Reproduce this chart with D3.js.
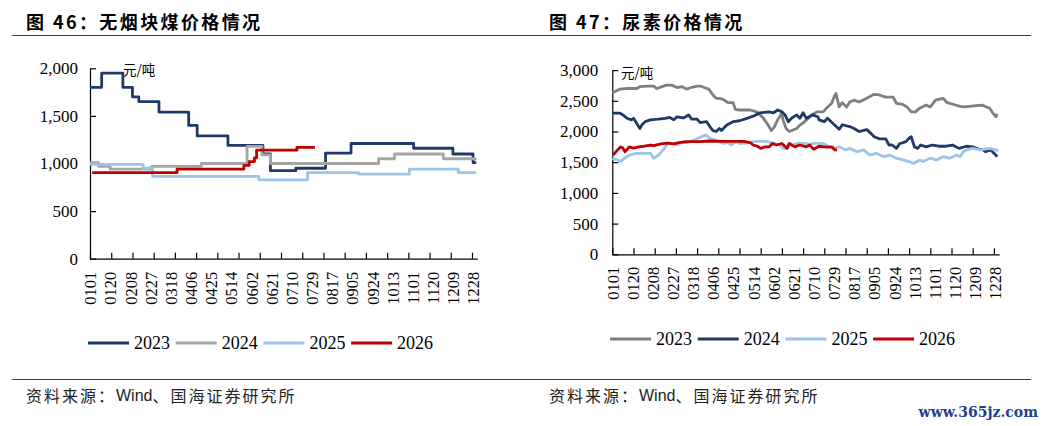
<!DOCTYPE html>
<html>
<head>
<meta charset="utf-8">
<script src="https://cdn.jsdelivr.net/npm/d3@7"></script>
<style>
  body { margin: 0; background: #fff; }
  svg { display: block; }
</style>
</head>
<body>
<svg id="chart" width="1048" height="426"></svg>
<script>
// x categories: every day of the year as MMDD, labels every 19 days
const tickLabels = ["0101", "0120", "0208", "0227", "0318", "0406", "0425", "0514", "0602", "0621",
  "0710", "0729", "0817", "0905", "0924", "1013", "1101", "1120", "1209", "1228"];
const years = ["2023", "2024", "2025", "2026"];

// 无烟块煤 (step changes: date, price)
const coal2023 = [["0101", 1800], ["0112", 1950], ["0201", 1800], ["0210", 1700], ["0216", 1650],
  ["0307", 1540], ["0404", 1400], ["0412", 1290], ["0511", 1190], ["0613", 1100], ["0620", 925],
  ["0714", 950], ["0811", 1110], ["0904", 1210], ["1102", 1160], ["1209", 1100], ["1228", 1010],
  ["1231", 1010]];
const coal2024 = [["0101", 1010], ["0109", 970], ["0120", 940], ["0228", 970], ["0416", 1000],
  ["0529", 1180], ["0612", 1090], ["0620", 1000], ["0930", 1050], ["1015", 1100], ["1130", 1050],
  ["1231", 1050]];
const coal2025 = [["0101", 990], ["0220", 950], ["0301", 865], ["0609", 828], ["0725", 905],
  ["0911", 888], ["1029", 940], ["1214", 905], ["1231", 905]];
const coal2026 = [["0103", 905], ["0324", 940], ["0526", 980], ["0531", 1020], ["0605", 1060],
  ["0607", 1140], ["0715", 1170], ["0801", 1170]];

// 尿素
const urea2023 = [["0101", 2630], ["0108", 2690], ["0115", 2700], ["0124", 2700], ["0127", 2730],
  ["0203", 2740], ["0209", 2740], ["0212", 2700], ["0217", 2730], ["0221", 2755], ["0226", 2755],
  ["0303", 2715], ["0308", 2730], ["0312", 2690], ["0317", 2720], ["0322", 2740], ["0325", 2740],
  ["0328", 2720], ["0402", 2690], ["0406", 2595], ["0409", 2540], ["0412", 2540], ["0416", 2520],
  ["0420", 2470], ["0425", 2470], ["0427", 2360], ["0501", 2350], ["0511", 2350], ["0517", 2320],
  ["0523", 2230], ["0528", 2105], ["0531", 2015], ["0603", 2080], ["0606", 2190], ["0610", 2295],
  ["0611", 2190], ["0614", 2050], ["0617", 2000], ["0624", 2050], ["0627", 2105], ["0630", 2140],
  ["0705", 2215], ["0708", 2270], ["0713", 2320], ["0719", 2320], ["0722", 2380], ["0727", 2460],
  ["0730", 2595], ["0731", 2620], ["0803", 2400], ["0806", 2470], ["0810", 2400], ["0813", 2480],
  ["0817", 2510], ["0822", 2480], ["0829", 2540], ["0905", 2605], ["0910", 2595], ["0916", 2560],
  ["0923", 2560], ["0926", 2460], ["1002", 2440], ["1006", 2400], ["1010", 2320], ["1014", 2320],
  ["1018", 2380], ["1024", 2430], ["1028", 2400], ["1102", 2510], ["1109", 2540], ["1113", 2470],
  ["1119", 2440], ["1125", 2410], ["1129", 2400], ["1204", 2410], ["1210", 2420], ["1216", 2430],
  ["1220", 2400], ["1223", 2380], ["1226", 2300], ["1229", 2240], ["1230", 2290]];
const urea2024 = [["0101", 2300], ["0108", 2300], ["0111", 2270], ["0115", 2215], ["0119", 2190],
  ["0121", 2215], ["0124", 2135], ["0127", 2050], ["0129", 2110], ["0201", 2160], ["0206", 2190],
  ["0213", 2200], ["0220", 2215], ["0224", 2230], ["0228", 2190], ["0303", 2240], ["0309", 2220],
  ["0314", 2270], ["0317", 2200], ["0322", 2200], ["0325", 2145], ["0331", 2160], ["0403", 2080],
  ["0406", 2015], ["0409", 2000], ["0412", 2050], ["0414", 2015], ["0419", 2105], ["0425", 2160],
  ["0501", 2175], ["0508", 2215], ["0514", 2250], ["0520", 2305], ["0529", 2320], ["0602", 2305],
  ["0606", 2350], ["0610", 2320], ["0613", 2270], ["0616", 2160], ["0619", 2215], ["0624", 2270],
  ["0627", 2215], ["0630", 2305], ["0703", 2215], ["0709", 2270], ["0714", 2240], ["0715", 2190],
  ["0720", 2160], ["0723", 2215], ["0728", 2135], ["0803", 2035], ["0806", 2110], ["0813", 2080],
  ["0817", 2050], ["0822", 2000], ["0829", 2030], ["0902", 1970], ["0905", 1915], ["0910", 1880],
  ["0916", 1880], ["0919", 1780], ["0922", 1780], ["0926", 1725], ["0929", 1800], ["1005", 1835],
  ["1008", 1890], ["1010", 1915], ["1013", 1750], ["1016", 1725], ["1019", 1780], ["1024", 1750],
  ["1030", 1780], ["1105", 1760], ["1112", 1760], ["1118", 1780], ["1124", 1725], ["1201", 1760],
  ["1207", 1750], ["1213", 1710], ["1216", 1710], ["1219", 1670], ["1224", 1700], ["1229", 1615],
  ["1230", 1590]];
const urea2025 = [["0101", 1560], ["0106", 1540], ["0109", 1510], ["0112", 1560], ["0117", 1615],
  ["0124", 1645], ["0201", 1645], ["0206", 1645], ["0209", 1565], ["0214", 1620], ["0219", 1725],
  ["0222", 1805], ["0228", 1800], ["0304", 1780], ["0307", 1820], ["0312", 1820], ["0315", 1835],
  ["0319", 1860], ["0326", 1915], ["0330", 1945], ["0403", 1890], ["0408", 1860], ["0411", 1840],
  ["0416", 1805], ["0420", 1820], ["0423", 1780], ["0428", 1835], ["0501", 1805], ["0508", 1810],
  ["0514", 1835], ["0520", 1840], ["0526", 1840], ["0603", 1805], ["0608", 1780], ["0611", 1725],
  ["0614", 1725], ["0617", 1805], ["0620", 1780], ["0624", 1805], ["0703", 1805], ["0706", 1790],
  ["0710", 1805], ["0719", 1805], ["0725", 1750], ["0730", 1725], ["0803", 1750], ["0809", 1700],
  ["0813", 1725], ["0820", 1670], ["0826", 1700], ["0901", 1615], ["0907", 1645], ["0914", 1590],
  ["0920", 1615], ["0926", 1565], ["1003", 1535], ["1008", 1510], ["1012", 1480], ["1018", 1535],
  ["1021", 1510], ["1028", 1565], ["1103", 1535], ["1109", 1590], ["1115", 1565], ["1122", 1615],
  ["1125", 1590], ["1128", 1670], ["1201", 1700], ["1207", 1725], ["1214", 1700], ["1223", 1725],
  ["1229", 1700], ["1231", 1690]];
const urea2026 = [["0102", 1620], ["0106", 1700], ["0109", 1750], ["0111", 1730], ["0113", 1670],
  ["0117", 1750], ["0121", 1730], ["0126", 1750], ["0131", 1760], ["0206", 1780], ["0209", 1770],
  ["0216", 1800], ["0222", 1810], ["0228", 1800], ["0305", 1820], ["0311", 1835], ["0324", 1835],
  ["0403", 1845], ["0416", 1840], ["0505", 1840], ["0511", 1820], ["0514", 1780], ["0518", 1760],
  ["0521", 1725], ["0525", 1750], ["0529", 1750], ["0601", 1805], ["0605", 1780], ["0610", 1805],
  ["0615", 1725], ["0617", 1805], ["0622", 1750], ["0627", 1780], ["0703", 1750], ["0706", 1780],
  ["0710", 1710], ["0715", 1760], ["0722", 1745], ["0727", 1750], ["0730", 1700], ["0801", 1700]];

const days = d3.timeDay.range(new Date(2023, 0, 1), new Date(2024, 0, 1)).map(d3.timeFormat("%m%d"));
const NUM_FONT = '"Liberation Serif", "Times New Roman", serif';
const CJK_FONT = '"Noto Sans CJK SC", "Noto Sans", sans-serif';

const svg = d3.select("#chart");

class PriceChart {
  constructor(cfg) {
    this.cfg = cfg;
    this.x = d3.scaleLinear().domain([0, 365]).range([cfg.x0, cfg.x1]);
    this.y = d3.scaleLinear().domain([0, cfg.yMax]).range([cfg.y0, cfg.y1]);
    this.g = svg.append("g");
    this.draw();
  }

  draw() {
    let that = this;
    let cfg = this.cfg;
    let g = this.g;

    // title
    g.append("text")
      .attr("x", cfg.titleX)
      .attr("y", 21)
      .attr("dominant-baseline", "central")
      .style("font-family", CJK_FONT)
      .style("font-weight", 700)
      .style("font-size", "18px")
      .style("letter-spacing", "2.4px")
      .text(cfg.title);

    // y axis, ticks inside
    let yAxis = g.append("g")
      .attr("transform", `translate(${cfg.x0},0)`)
      .call(d3.axisLeft(this.y)
        .tickValues(d3.range(0, cfg.yMax + 1, cfg.yStep))
        .tickSize(-6)
        .tickSizeOuter(0)
        .tickPadding(cfg.yPad)
        .tickFormat(d3.format(",")));
    yAxis.attr("font-family", null);
    yAxis.selectAll("text")
      .style("font-family", NUM_FONT)
      .style("font-size", "17px")
      .attr("fill", "#000");

    // x axis tick marks every 20 days
    let xAxis = g.append("g")
      .attr("transform", `translate(0,${cfg.y0})`)
      .call(d3.axisBottom(this.x)
        .tickValues(d3.range(0, 361, 20))
        .tickSize(-6)
        .tickSizeOuter(0)
        .tickFormat(""));

    // x labels every 19 days, rotated
    let xLab = g.append("g")
      .attr("transform", `translate(0,${cfg.y0})`)
      .call(d3.axisBottom(this.x)
        .tickValues(tickLabels.map(t => days.indexOf(t)))
        .tickSize(0)
        .tickFormat(i => days[i]));
    xLab.attr("font-family", null);
    xLab.select(".domain").remove();
    xLab.selectAll("text")
      .attr("transform", "rotate(-90)")
      .attr("text-anchor", "end")
      .attr("x", -cfg.xPad)
      .attr("y", 0)
      .attr("dy", "0.35em")
      .style("font-family", NUM_FONT)
      .style("font-size", "16.5px")
      .attr("fill", "#000");

    [yAxis, xAxis].forEach(a => a.selectAll("path,line").attr("stroke", "#000").attr("stroke-width", 1.2));

    // unit
    g.append("text")
      .attr("x", cfg.unitX)
      .attr("y", cfg.unitY)
      .attr("dominant-baseline", "central")
      .style("font-family", CJK_FONT)
      .style("font-size", "13.5px")
      .text("元/吨");

    let line = d3.line()
      .x(d => that.x(days.indexOf(d[0])))
      .y(d => that.y(d[1]))
      .curve(cfg.curve);

    cfg.series.forEach(function(s) {
      g.append("path")
        .datum(s.data)
        .attr("fill", "none")
        .attr("stroke", s.color)
        .attr("stroke-width", 2.8)
        .attr("stroke-linejoin", "round")
        .attr("d", line);
    });

    // legend
    cfg.series.forEach(function(s, i) {
      let lx = cfg.legX + i * 87.7;
      g.append("line")
        .attr("x1", lx).attr("x2", lx + 41)
        .attr("y1", cfg.legY).attr("y2", cfg.legY)
        .attr("stroke", s.color)
        .attr("stroke-width", 3);
      g.append("text")
        .attr("x", lx + 46)
        .attr("y", cfg.legY)
        .attr("dominant-baseline", "central")
        .style("font-family", NUM_FONT)
        .style("font-size", "18px")
        .text(s.name);
    });

    // source, latin part without the wide spacing
    let src = g.append("text")
      .attr("x", cfg.titleX)
      .attr("y", 395)
      .attr("dominant-baseline", "central")
      .style("font-family", CJK_FONT)
      .style("font-size", "16px")
      .attr("fill", "#222");
    src.append("tspan").style("letter-spacing", "2px").text("资料来源：");
    src.append("tspan").style("font-family", '"Liberation Sans", Arial, sans-serif').text("Wind");
    src.append("tspan").style("letter-spacing", "2px").text("、国海证券研究所");
  }
}

const NAVY = "#1f3a68", LBLUE = "#9dc3e6", RED = "#c00000";

new PriceChart({
  title: "图 46：无烟块煤价格情况",
  titleX: 26,
  x0: 90, x1: 477.3, y0: 258.7, y1: 68.3,
  yMax: 2000, yStep: 500, yPad: 12, xPad: 13,
  unitX: 123, unitY: 69,
  legX: 88, legY: 343,
  curve: d3.curveStepAfter,
  series: [
    { name: years[0], data: coal2023, color: NAVY },
    { name: years[1], data: coal2024, color: "#a6a6a6" },
    { name: years[2], data: coal2025, color: LBLUE },
    { name: years[3], data: coal2026, color: RED }
  ]
});

new PriceChart({
  title: "图 47：尿素价格情况",
  titleX: 549,
  x0: 612.3, x1: 999.2, y0: 254.3, y1: 70.1,
  yMax: 3000, yStep: 500, yPad: 14, xPad: 12.5,
  unitX: 621, unitY: 72,
  legX: 610, legY: 339,
  curve: d3.curveLinear,
  series: [
    { name: years[0], data: urea2023, color: "#7f7f7f" },
    { name: years[1], data: urea2024, color: NAVY },
    { name: years[2], data: urea2025, color: LBLUE },
    { name: years[3], data: urea2026, color: RED }
  ]
});

// rules under titles and above sources
[35, 379].forEach(function(yy) {
  svg.append("line")
    .attr("x1", 12).attr("x2", 1031)
    .attr("y1", yy + 0.5).attr("y2", yy + 0.5)
    .attr("stroke", "#404040")
    .attr("stroke-width", 1);
});

svg.append("text")
  .attr("x", 1038)
  .attr("y", 412)
  .attr("text-anchor", "end")
  .attr("dominant-baseline", "central")
  .style("font-family", '"DejaVu Serif", serif')
  .style("font-size", "14px")
  .style("font-weight", 700)
  .attr("fill", "#1f3f8f")
  .text("www.365jz.com");
</script>
</body>
</html>
